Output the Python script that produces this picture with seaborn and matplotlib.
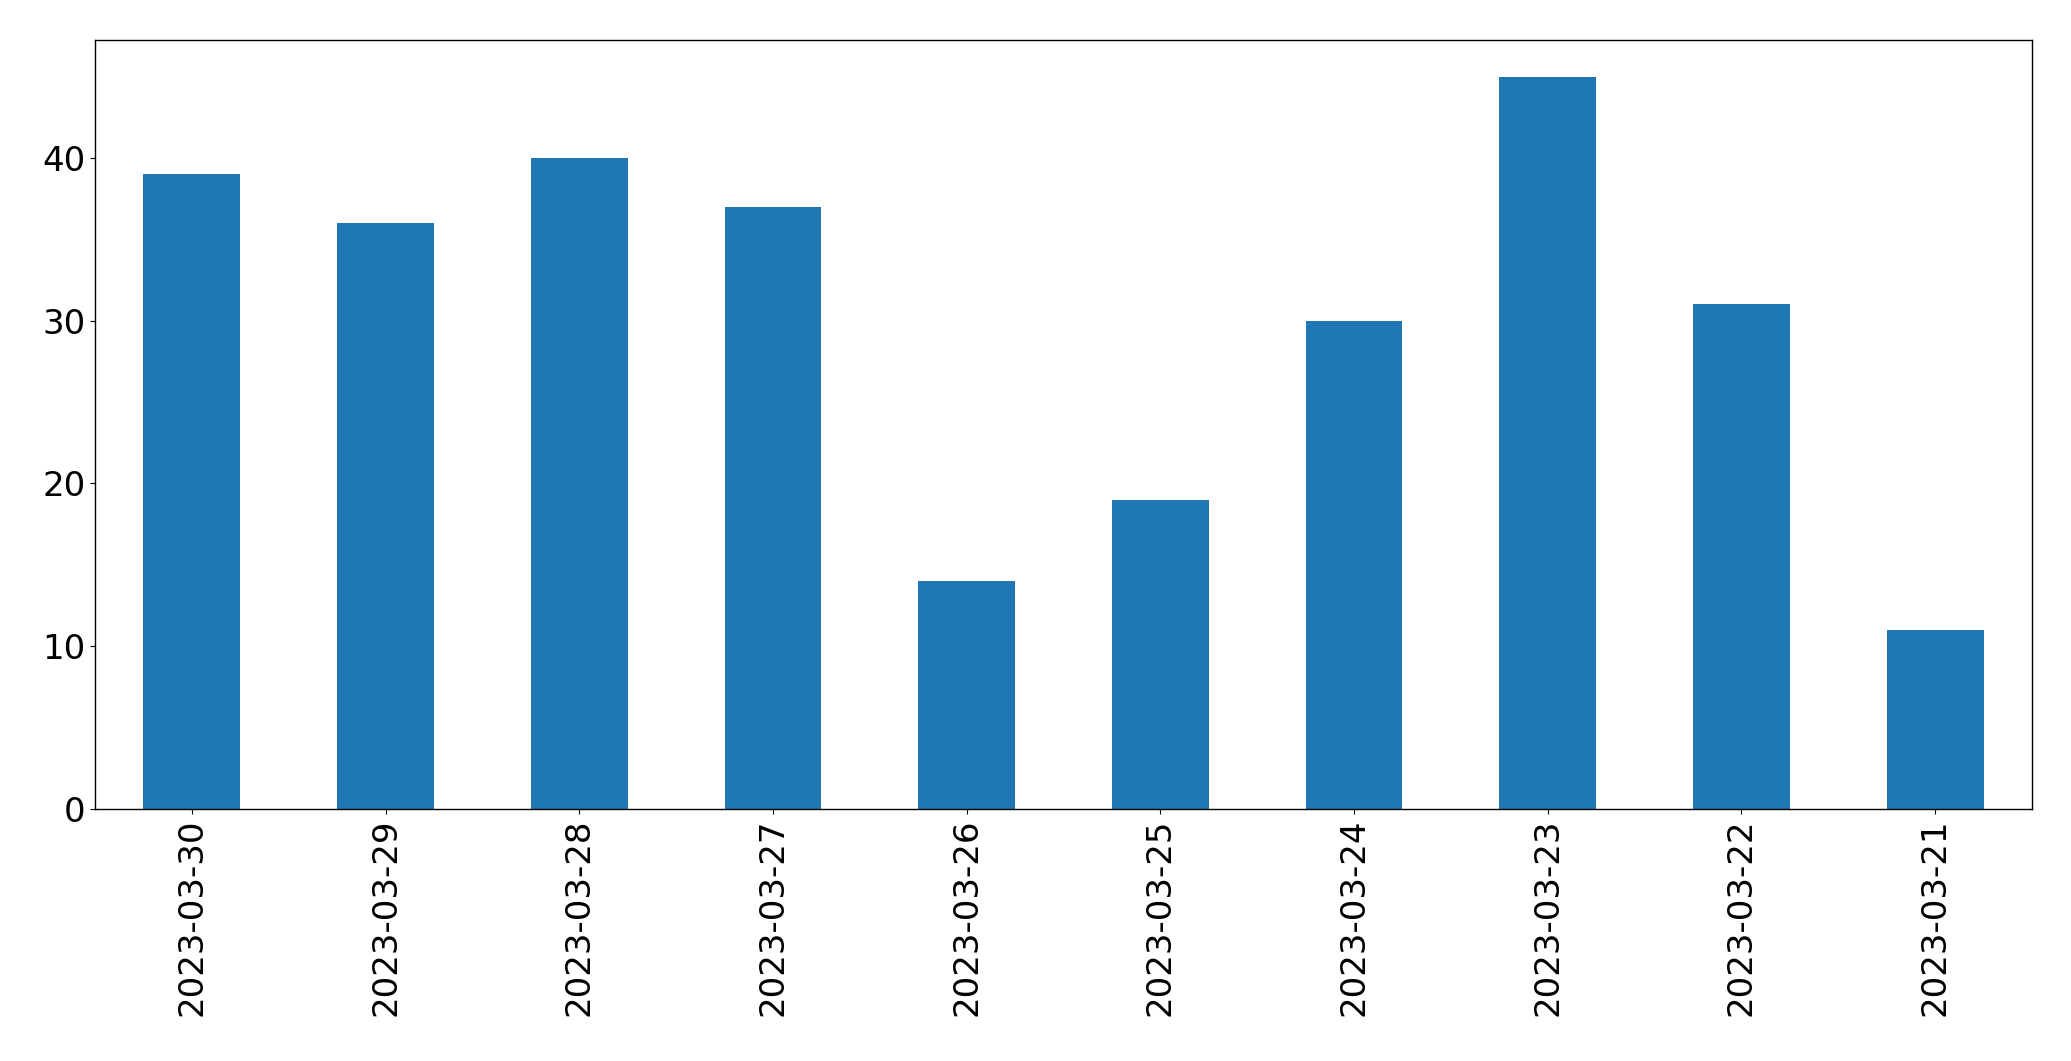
import matplotlib
matplotlib.use("Agg")
import matplotlib.pyplot as plt
import seaborn as sns
import pandas as pd

dates = ["2023-03-30", "2023-03-29", "2023-03-28", "2023-03-27", "2023-03-26",
         "2023-03-25", "2023-03-24", "2023-03-23", "2023-03-22", "2023-03-21"]
counts = [39, 36, 40, 37, 14, 19, 30, 45, 31, 11]

df = pd.DataFrame({"date": dates, "count": counts})

fig = plt.figure(figsize=(20.71, 10.61), dpi=100)
ax = fig.add_axes([95 / 2071, 1 - 809 / 1061, (2032 - 95) / 2071, (809 - 40) / 1061])
sns.barplot(data=df, x="date", y="count", order=dates, color="#1f77b4",
            saturation=1, width=0.5, linewidth=0, ax=ax)
ax.set_xlim(-0.5, len(dates) - 0.5)
ax.set_ylim(0, max(counts) * 1.05)
ax.set_xlabel("")
ax.set_ylabel("")
ax.tick_params(axis="both", labelsize=24.5)
ax.tick_params(axis="x", labelrotation=90)
for s in ax.spines.values():
    s.set_linewidth(1.0)
fig.savefig("out.png", dpi=100)
